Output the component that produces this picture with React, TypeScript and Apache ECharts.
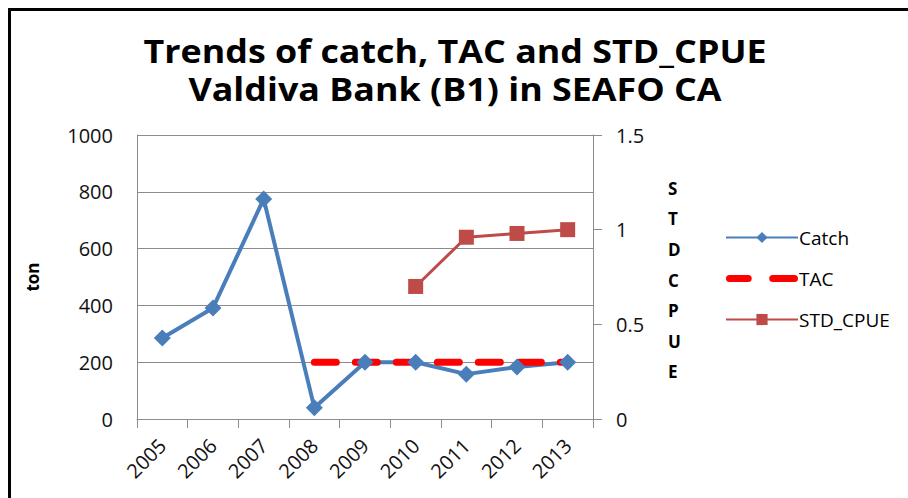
import React, { useEffect, useRef } from "react";
import * as echarts from "echarts";

const years = ["2005", "2006", "2007", "2008", "2009", "2010", "2011", "2012", "2013"];
const catchValues = [285, 391, 775, 40, 200, 200, 158, 183, 200];
const tacValues: (number | null)[] = [null, null, null, 200, 200, 200, 200, 200, 200];
const cpueValues: (number | null)[] = [null, null, null, null, null, 0.7, 0.96, 0.98, 1.0];
const titleLines = ["Trends of catch, TAC and STD_CPUE", "Valdiva Bank (B1) in SEAFO CA"];

const FONT = "'Open Sans', sans-serif";
const TAC_ICON =
  "path://M3.5,0 H21.5 A3.5,3.5 0 0 1 21.5,7 H3.5 A3.5,3.5 0 0 1 3.5,0 Z M45.5,0 H66.5 A3.5,3.5 0 0 1 66.5,7 H45.5 A3.5,3.5 0 0 1 45.5,0 Z";

export default function App() {
  const ref = useRef<HTMLDivElement>(null);
  useEffect(() => {
    if (!ref.current) return;
    const chart = echarts.init(ref.current, undefined, { renderer: "svg" });
    chart.setOption({
      animation: false,
      backgroundColor: "#ffffff",
      graphic: [
        {
          type: "line",
          shape: { x1: 9.5, y1: 498, x2: 9.5, y2: 9.5 },
          style: { stroke: "#000000", lineWidth: 3 },
        },
        {
          type: "line",
          shape: { x1: 8, y1: 9.5, x2: 908, y2: 9.5 },
          style: { stroke: "#000000", lineWidth: 3 },
        },
        {
          type: "text",
          x: 455,
          y: 32,
          scaleX: 1.12,
          style: {
            text: titleLines.join("\n"),
            fontFamily: FONT,
            fontWeight: "bold",
            fontSize: 32,
            lineHeight: 38,
            align: "center",
            verticalAlign: "top",
            fill: "#000000",
          },
        },
        {
          type: "text",
          left: 668,
          top: 173,
          style: {
            text: "S\nT\nD\nC\nP\nU\nE",
            fontFamily: FONT,
            fontWeight: "bold",
            fontSize: 17,
            lineHeight: 30.6,
            align: "center",
            fill: "#000000",
          },
        },
      ],
      legend: {
        orient: "vertical",
        left: 720,
        top: 223,
        itemWidth: 72,
        itemHeight: 14,
        itemGap: 22,
        symbolKeepAspect: true,
        textStyle: { fontFamily: FONT, fontSize: 19, color: "#000000", padding: [0, 0, 0, -4] },
        data: [
          { name: "Catch" },
          { name: "TAC", icon: TAC_ICON, itemStyle: { color: "#ff0000" } },
          { name: "STD_CPUE" },
        ],
      },
      grid: { left: 137, right: 315, top: 135, bottom: 79 },
      xAxis: {
        type: "category",
        data: years,
        boundaryGap: true,
        axisLine: { lineStyle: { color: "#8c8c8c", width: 1 } },
        axisTick: { show: true, length: 9, lineStyle: { color: "#8c8c8c" } },
        axisLabel: {
          rotate: 45,
          margin: 23,
          fontFamily: FONT,
          fontSize: 20,
          color: "#111111",
          interval: 0,
        },
      },
      yAxis: [
        {
          type: "value",
          min: 0,
          max: 1000,
          interval: 200,
          name: "ton",
          nameLocation: "middle",
          nameGap: 96,
          nameTextStyle: { fontFamily: FONT, fontWeight: "bold", fontSize: 17, color: "#000000" },
          axisLine: { show: true, lineStyle: { color: "#8c8c8c" } },
          axisTick: { show: false },
          axisLabel: {
            fontFamily: FONT,
            fontSize: 20,
            color: "#111111",
            margin: 24,
            formatter: (v: number) => String(v),
          },
          splitLine: { lineStyle: { color: "#8c8c8c", width: 1 } },
        },
        {
          type: "value",
          min: 0,
          max: 1.5,
          interval: 0.5,
          position: "right",
          axisLine: { show: true, lineStyle: { color: "#8c8c8c" } },
          axisTick: { show: true, length: 9, lineStyle: { color: "#8c8c8c" } },
          axisLabel: {
            fontFamily: FONT,
            fontSize: 20,
            color: "#111111",
            margin: 23,
            formatter: (v: number) => String(v),
          },
          splitLine: { show: false },
        },
      ],
      series: [
        {
          name: "Catch",
          type: "line",
          data: catchValues,
          yAxisIndex: 0,
          symbol: "diamond",
          symbolSize: 17,
          itemStyle: { color: "#4a7ebb" },
          lineStyle: { color: "#4a7ebb", width: 4 },
        },
        {
          name: "TAC",
          type: "line",
          data: tacValues,
          yAxisIndex: 0,
          symbol: "none",
          itemStyle: { color: "#ff0000" },
          lineStyle: { color: "#ff0000", width: 7, type: [22, 19], cap: "round" },
        },
        {
          name: "STD_CPUE",
          type: "line",
          data: cpueValues,
          yAxisIndex: 1,
          symbol: "rect",
          symbolSize: 15,
          itemStyle: { color: "#be4b48" },
          lineStyle: { color: "#be4b48", width: 3 },
        },
      ],
    });
    return () => chart.dispose();
  }, []);
  return <div ref={ref} style={{ width: 908, height: 498, position: "absolute", left: 0, top: 0 }} />;
}
